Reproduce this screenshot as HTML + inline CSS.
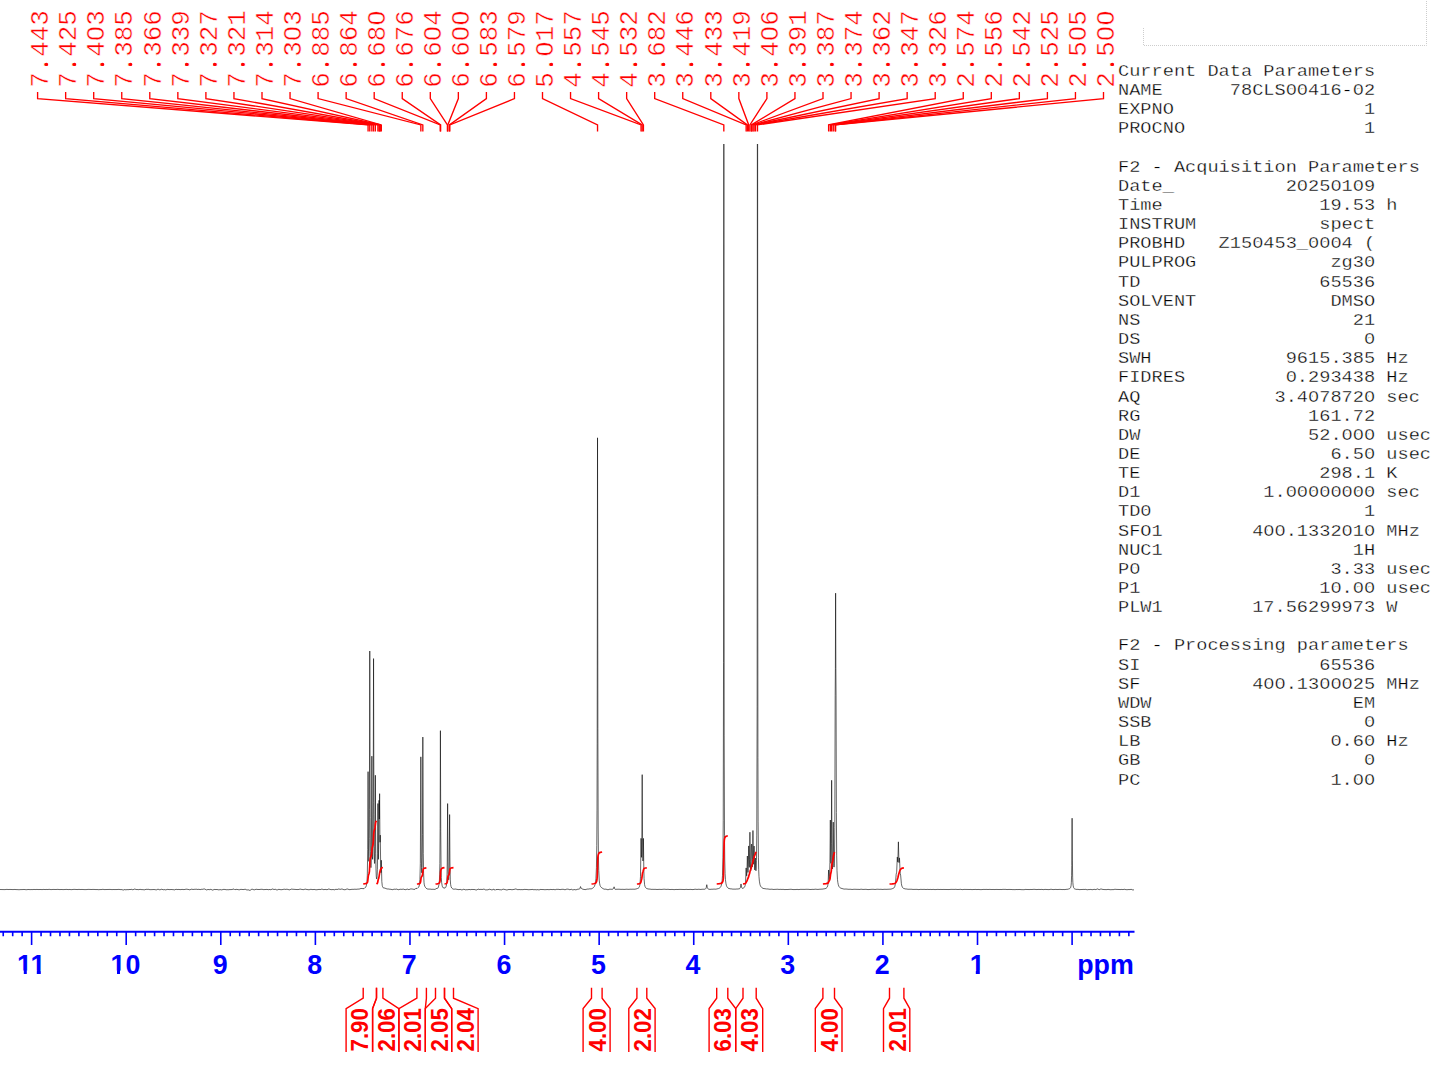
<!DOCTYPE html>
<html><head><meta charset="utf-8"><title>1H NMR spectrum</title>
<style>
html,body{margin:0;padding:0;background:#fff;}
body{width:1445px;height:1065px;overflow:hidden;}
svg{display:block;}
.pl{font-family:"Liberation Mono",monospace;font-size:25.87px;fill:#f00;stroke:#fff;stroke-width:0.45px;}
.pt{font-family:"Liberation Mono",monospace;font-size:18.65px;fill:#000;white-space:pre;stroke:#fff;stroke-width:0.35px;}
.ax{font-family:"Liberation Sans",Arial,sans-serif;font-weight:bold;font-size:26.8px;fill:#00f;}
.il{font-family:"Liberation Sans",Arial,sans-serif;font-weight:bold;font-size:23.5px;fill:#f00;}
</style></head><body>
<svg width="1445" height="1065" viewBox="0 0 1445 1065">
<defs><clipPath id="cp"><rect x="0" y="144" width="1140" height="800"/></clipPath></defs>
<g fill="none" stroke="#cdcdcd" stroke-width="1" stroke-dasharray="1 1"><path d="M1143.5 28 V45.5 H1426.5 V0"/></g>
<g class="pl">
<text transform="translate(48.30,87.7) rotate(-90)">7.443</text>
<text transform="translate(76.35,87.7) rotate(-90)">7.425</text>
<text transform="translate(104.40,87.7) rotate(-90)">7.403</text>
<text transform="translate(132.45,87.7) rotate(-90)">7.385</text>
<text transform="translate(160.50,87.7) rotate(-90)">7.366</text>
<text transform="translate(188.55,87.7) rotate(-90)">7.339</text>
<text transform="translate(216.60,87.7) rotate(-90)">7.327</text>
<text transform="translate(244.65,87.7) rotate(-90)">7.321</text>
<text transform="translate(272.70,87.7) rotate(-90)">7.314</text>
<text transform="translate(300.75,87.7) rotate(-90)">7.303</text>
<text transform="translate(328.80,87.7) rotate(-90)">6.885</text>
<text transform="translate(356.85,87.7) rotate(-90)">6.864</text>
<text transform="translate(384.90,87.7) rotate(-90)">6.680</text>
<text transform="translate(412.95,87.7) rotate(-90)">6.676</text>
<text transform="translate(441.00,87.7) rotate(-90)">6.604</text>
<text transform="translate(469.05,87.7) rotate(-90)">6.600</text>
<text transform="translate(497.10,87.7) rotate(-90)">6.583</text>
<text transform="translate(525.15,87.7) rotate(-90)">6.579</text>
<text transform="translate(553.20,87.7) rotate(-90)">5.017</text>
<text transform="translate(581.25,87.7) rotate(-90)">4.557</text>
<text transform="translate(609.30,87.7) rotate(-90)">4.545</text>
<text transform="translate(637.35,87.7) rotate(-90)">4.532</text>
<text transform="translate(665.40,87.7) rotate(-90)">3.682</text>
<text transform="translate(693.45,87.7) rotate(-90)">3.446</text>
<text transform="translate(721.50,87.7) rotate(-90)">3.433</text>
<text transform="translate(749.55,87.7) rotate(-90)">3.419</text>
<text transform="translate(777.60,87.7) rotate(-90)">3.406</text>
<text transform="translate(805.65,87.7) rotate(-90)">3.391</text>
<text transform="translate(833.70,87.7) rotate(-90)">3.387</text>
<text transform="translate(861.75,87.7) rotate(-90)">3.374</text>
<text transform="translate(889.80,87.7) rotate(-90)">3.362</text>
<text transform="translate(917.85,87.7) rotate(-90)">3.347</text>
<text transform="translate(945.90,87.7) rotate(-90)">3.326</text>
<text transform="translate(973.95,87.7) rotate(-90)">2.574</text>
<text transform="translate(1002.00,87.7) rotate(-90)">2.556</text>
<text transform="translate(1030.05,87.7) rotate(-90)">2.542</text>
<text transform="translate(1058.10,87.7) rotate(-90)">2.525</text>
<text transform="translate(1086.15,87.7) rotate(-90)">2.505</text>
<text transform="translate(1114.20,87.7) rotate(-90)">2.500</text>
</g>
<g fill="#fff"><circle cx="95.67" cy="33.37" r="2.85"/><circle cx="292.02" cy="33.37" r="2.85"/><circle cx="376.17" cy="17.85" r="2.85"/><circle cx="432.27" cy="33.37" r="2.85"/><circle cx="460.32" cy="33.37" r="2.85"/><circle cx="460.32" cy="17.85" r="2.85"/><circle cx="544.47" cy="48.90" r="2.85"/><circle cx="768.87" cy="33.37" r="2.85"/><circle cx="1077.42" cy="33.37" r="2.85"/><circle cx="1105.47" cy="33.37" r="2.85"/><circle cx="1105.47" cy="17.85" r="2.85"/></g>
<g fill="#f00"><circle cx="46.40" cy="64.42" r="1.65"/><circle cx="74.45" cy="64.42" r="1.65"/><circle cx="102.50" cy="64.42" r="1.65"/><circle cx="130.55" cy="64.42" r="1.65"/><circle cx="158.60" cy="64.42" r="1.65"/><circle cx="186.65" cy="64.42" r="1.65"/><circle cx="214.70" cy="64.42" r="1.65"/><circle cx="242.75" cy="64.42" r="1.65"/><circle cx="270.80" cy="64.42" r="1.65"/><circle cx="298.85" cy="64.42" r="1.65"/><circle cx="326.90" cy="64.42" r="1.65"/><circle cx="354.95" cy="64.42" r="1.65"/><circle cx="383.00" cy="64.42" r="1.65"/><circle cx="411.05" cy="64.42" r="1.65"/><circle cx="439.10" cy="64.42" r="1.65"/><circle cx="467.15" cy="64.42" r="1.65"/><circle cx="495.20" cy="64.42" r="1.65"/><circle cx="523.25" cy="64.42" r="1.65"/><circle cx="551.30" cy="64.42" r="1.65"/><circle cx="579.35" cy="64.42" r="1.65"/><circle cx="607.40" cy="64.42" r="1.65"/><circle cx="635.45" cy="64.42" r="1.65"/><circle cx="663.50" cy="64.42" r="1.65"/><circle cx="691.55" cy="64.42" r="1.65"/><circle cx="719.60" cy="64.42" r="1.65"/><circle cx="747.65" cy="64.42" r="1.65"/><circle cx="775.70" cy="64.42" r="1.65"/><circle cx="803.75" cy="64.42" r="1.65"/><circle cx="831.80" cy="64.42" r="1.65"/><circle cx="859.85" cy="64.42" r="1.65"/><circle cx="887.90" cy="64.42" r="1.65"/><circle cx="915.95" cy="64.42" r="1.65"/><circle cx="944.00" cy="64.42" r="1.65"/><circle cx="972.05" cy="64.42" r="1.65"/><circle cx="1000.10" cy="64.42" r="1.65"/><circle cx="1028.15" cy="64.42" r="1.65"/><circle cx="1056.20" cy="64.42" r="1.65"/><circle cx="1084.25" cy="64.42" r="1.65"/><circle cx="1112.30" cy="64.42" r="1.65"/></g>
<g fill="none" stroke="#f00" stroke-width="1.35">
<path d="M37.60 92 V98.6 L368.07 124.9 V131.5"/>
<path d="M65.65 92 V98.6 L369.77 124.9 V131.5"/>
<path d="M93.70 92 V98.6 L371.85 124.9 V131.5"/>
<path d="M121.75 92 V98.6 L373.55 124.9 V131.5"/>
<path d="M149.80 92 V98.6 L375.35 124.9 V131.5"/>
<path d="M177.85 92 V98.6 L377.90 124.9 V131.5"/>
<path d="M205.90 92 V98.6 L379.04 124.9 V131.5"/>
<path d="M233.95 92 V98.6 L379.61 124.9 V131.5"/>
<path d="M262.00 92 V98.6 L380.27 124.9 V131.5"/>
<path d="M290.05 92 V98.6 L381.31 124.9 V131.5"/>
<path d="M318.10 92 V98.6 L420.85 124.9 V131.5"/>
<path d="M346.15 92 V98.6 L422.83 124.9 V131.5"/>
<path d="M374.20 92 V98.6 L440.24 124.9 V131.5"/>
<path d="M402.25 92 V98.6 L440.62 124.9 V131.5"/>
<path d="M430.30 92 V98.6 L447.43 124.9 V131.5"/>
<path d="M458.35 92 V98.6 L447.81 124.9 V131.5"/>
<path d="M486.40 92 V98.6 L449.41 124.9 V131.5"/>
<path d="M514.45 92 V98.6 L449.79 124.9 V131.5"/>
<path d="M542.50 92 V98.6 L597.54 124.9 V131.5"/>
<path d="M570.55 92 V98.6 L641.05 124.9 V131.5"/>
<path d="M598.60 92 V98.6 L642.19 124.9 V131.5"/>
<path d="M626.65 92 V98.6 L643.42 124.9 V131.5"/>
<path d="M654.70 92 V98.6 L723.82 124.9 V131.5"/>
<path d="M682.75 92 V98.6 L746.14 124.9 V131.5"/>
<path d="M710.80 92 V98.6 L747.37 124.9 V131.5"/>
<path d="M738.85 92 V98.6 L748.70 124.9 V131.5"/>
<path d="M766.90 92 V98.6 L749.93 124.9 V131.5"/>
<path d="M794.95 92 V98.6 L751.35 124.9 V131.5"/>
<path d="M823.00 92 V98.6 L751.72 124.9 V131.5"/>
<path d="M851.05 92 V98.6 L752.95 124.9 V131.5"/>
<path d="M879.10 92 V98.6 L754.09 124.9 V131.5"/>
<path d="M907.15 92 V98.6 L755.51 124.9 V131.5"/>
<path d="M935.20 92 V98.6 L757.49 124.9 V131.5"/>
<path d="M963.25 92 V98.6 L828.63 124.9 V131.5"/>
<path d="M991.30 92 V98.6 L830.33 124.9 V131.5"/>
<path d="M1019.35 92 V98.6 L831.65 124.9 V131.5"/>
<path d="M1047.40 92 V98.6 L833.26 124.9 V131.5"/>
<path d="M1075.45 92 V98.6 L835.15 124.9 V131.5"/>
<path d="M1103.50 92 V98.6 L835.62 124.9 V131.5"/>
</g>
<path clip-path="url(#cp)" fill="none" stroke="#000" stroke-width="0.6" stroke-linejoin="round" d="M0.00 889.50 L5.00 889.60 L7.00 889.36 L8.00 889.55 L10.00 889.45 L13.00 889.59 L15.00 889.43 L16.00 889.63 L17.00 889.54 L18.00 889.69 L20.00 889.68 L21.00 889.52 L22.00 889.63 L23.00 889.47 L25.00 889.52 L26.00 889.75 L28.00 889.50 L29.00 889.49 L30.00 889.65 L31.00 889.55 L33.00 889.58 L34.00 889.39 L35.00 889.58 L37.00 889.41 L38.00 889.56 L41.00 889.49 L42.00 889.62 L44.00 889.36 L45.00 889.65 L46.00 889.41 L48.00 889.56 L49.00 889.30 L51.00 889.62 L53.00 889.44 L56.00 889.51 L58.00 889.35 L59.00 889.57 L62.00 889.49 L63.00 889.62 L67.00 889.38 L68.00 889.63 L70.00 889.43 L71.00 889.70 L74.00 889.37 L77.00 889.54 L78.00 889.52 L79.00 889.35 L80.00 889.54 L82.00 889.46 L85.00 889.61 L87.00 889.54 L88.00 889.38 L92.00 889.53 L93.00 889.39 L94.00 889.50 L95.00 889.44 L96.00 889.63 L97.00 889.46 L98.00 889.67 L99.00 889.70 L100.00 889.53 L101.00 889.59 L102.00 889.48 L103.00 889.27 L104.00 889.58 L110.00 889.43 L112.00 889.60 L114.00 889.49 L115.00 889.60 L116.00 889.47 L117.00 889.58 L118.00 889.40 L120.00 889.49 L121.00 889.68 L122.00 889.53 L123.00 890.10 L124.00 889.84 L125.00 889.39 L126.00 890.14 L127.00 889.24 L128.00 890.02 L129.00 889.27 L130.00 889.75 L131.00 889.26 L132.00 889.46 L133.00 889.96 L134.00 889.12 L135.00 889.07 L136.00 889.52 L138.00 889.55 L139.00 889.79 L140.00 889.17 L141.00 889.66 L142.00 889.51 L143.00 889.74 L144.00 889.69 L145.00 889.88 L146.00 889.12 L147.00 889.54 L148.00 889.21 L150.00 889.71 L151.00 889.60 L152.00 889.67 L153.00 889.50 L155.00 889.59 L156.00 889.91 L157.00 889.74 L158.00 889.00 L159.00 889.70 L160.00 889.81 L162.00 889.08 L163.00 889.93 L164.00 889.56 L165.00 889.69 L166.00 890.03 L167.00 889.28 L168.00 889.50 L169.00 889.48 L170.00 889.72 L171.00 889.36 L172.00 889.66 L173.00 889.54 L174.00 889.83 L175.00 889.86 L176.00 889.10 L177.00 889.65 L178.00 889.41 L181.00 889.65 L182.00 889.31 L183.00 889.59 L185.00 889.49 L186.00 889.14 L188.00 889.38 L190.00 889.91 L191.00 889.21 L192.00 889.21 L193.00 889.54 L194.00 889.33 L197.00 889.22 L198.00 889.63 L199.00 889.04 L200.00 889.87 L201.00 889.24 L202.00 889.35 L203.00 889.23 L204.00 888.93 L205.00 889.05 L206.00 889.84 L207.00 890.00 L208.00 889.25 L209.00 889.80 L211.00 889.24 L212.00 889.99 L213.00 890.13 L214.00 889.42 L216.00 889.57 L217.00 889.48 L219.00 889.95 L220.00 889.55 L222.00 889.99 L223.00 889.34 L224.00 889.51 L225.00 889.37 L226.00 889.79 L227.00 889.69 L229.00 889.76 L230.00 889.44 L231.00 889.73 L232.00 889.39 L233.00 889.39 L234.00 888.89 L235.00 889.91 L236.00 889.23 L237.00 889.52 L238.00 889.50 L239.00 889.93 L241.00 889.27 L242.00 889.52 L243.00 889.47 L244.00 889.58 L245.00 889.15 L246.00 889.50 L247.00 890.15 L248.00 889.70 L250.00 890.47 L251.00 889.65 L252.00 889.09 L254.00 889.84 L255.00 889.78 L256.00 889.15 L257.00 889.45 L259.00 889.51 L260.00 889.48 L261.00 889.25 L262.00 889.33 L263.00 889.43 L264.00 889.80 L265.00 889.34 L266.00 889.70 L267.00 889.16 L268.00 889.87 L269.00 889.53 L270.00 889.49 L271.00 889.89 L272.00 888.97 L273.00 889.05 L274.00 889.63 L275.00 889.26 L276.00 889.38 L277.00 890.27 L278.00 889.41 L280.00 889.46 L281.00 889.81 L282.00 889.57 L283.00 889.54 L284.00 889.13 L286.00 889.49 L287.00 889.03 L288.00 889.65 L289.00 889.60 L290.00 890.03 L291.00 889.02 L292.00 889.20 L297.00 889.56 L299.00 889.47 L300.00 889.03 L302.00 889.50 L304.00 889.67 L305.00 889.00 L306.00 889.33 L309.00 889.81 L311.00 889.22 L312.00 889.60 L315.00 889.44 L316.00 889.95 L317.00 889.55 L318.00 889.73 L319.00 889.21 L320.00 889.70 L322.00 889.01 L323.00 889.56 L324.00 889.65 L325.00 889.41 L326.00 889.47 L327.00 889.76 L329.00 888.86 L330.00 889.54 L331.00 889.52 L332.00 889.77 L333.00 889.36 L334.00 889.82 L335.00 889.78 L336.00 889.06 L337.00 889.71 L338.00 889.11 L339.00 888.98 L340.00 889.35 L341.00 889.26 L342.00 888.84 L343.00 889.48 L345.00 889.81 L347.00 888.95 L348.00 889.09 L349.00 889.66 L351.00 889.50 L352.00 889.25 L353.00 889.38 L355.00 889.18 L356.00 889.33 L358.00 889.09 L359.00 889.12 L360.00 888.87 L361.00 888.36 L362.00 888.60 L363.00 888.55 L364.00 888.73 L365.00 887.49 L365.50 887.31 L365.90 886.93 L366.40 885.56 L366.97 881.75 L367.30 875.62 L367.70 849.75 L368.07 771.65 L368.50 851.12 L368.75 861.16 L368.82 861.33 L368.90 860.43 L369.02 856.96 L369.25 838.61 L369.40 809.36 L369.77 651.02 L370.17 817.47 L370.40 851.25 L370.73 865.96 L370.93 867.63 L371.12 865.57 L371.40 850.72 L371.85 756.18 L372.30 848.18 L372.43 856.07 L372.60 859.34 L372.78 856.61 L372.93 848.73 L373.22 802.42 L373.55 658.59 L373.93 814.59 L374.13 846.47 L374.41 861.47 L374.56 863.48 L374.70 862.26 L374.93 850.91 L375.35 775.25 L375.75 853.64 L375.96 868.27 L376.26 876.24 L376.57 878.86 L376.76 879.06 L376.91 878.51 L377.17 875.55 L377.37 869.65 L377.58 853.89 L377.91 803.53 L378.23 849.64 L378.37 857.89 L378.46 859.34 L378.53 858.61 L378.76 843.61 L379.03 800.30 L379.32 819.00 L379.61 793.65 L379.93 839.28 L380.03 842.24 L380.27 835.14 L380.72 870.33 L380.86 872.69 L380.97 872.16 L381.31 860.23 L381.82 881.48 L382.26 885.52 L382.57 886.70 L383.00 887.66 L383.46 887.85 L384.00 887.84 L385.00 888.25 L386.00 888.46 L387.00 889.08 L388.00 888.88 L389.00 889.14 L391.00 889.30 L392.00 889.62 L393.00 889.69 L394.00 889.04 L395.00 889.35 L397.00 889.02 L398.00 889.85 L400.00 889.29 L401.00 889.23 L402.00 889.46 L403.00 889.04 L404.00 889.29 L405.00 889.71 L406.00 889.62 L407.00 889.10 L408.00 889.19 L409.00 889.89 L410.00 888.90 L411.00 889.10 L412.00 888.84 L413.00 889.32 L414.00 889.23 L415.00 889.38 L416.00 888.12 L417.00 888.66 L418.00 887.55 L418.69 887.14 L419.14 886.16 L419.59 883.62 L419.93 879.30 L420.33 863.51 L420.84 756.83 L421.33 857.88 L421.49 867.54 L421.69 872.24 L421.79 872.88 L421.93 872.30 L422.14 867.49 L422.49 834.32 L422.83 737.06 L423.29 853.34 L423.58 873.18 L424.04 882.79 L424.34 884.86 L424.78 886.27 L425.63 887.67 L427.00 888.95 L429.00 889.14 L430.00 889.09 L432.00 889.37 L433.00 889.20 L434.00 889.38 L435.00 889.37 L437.00 888.22 L437.51 888.26 L437.96 888.13 L438.36 887.31 L439.01 884.50 L439.41 880.30 L439.66 874.12 L439.86 863.54 L440.11 828.49 L440.41 730.66 L440.76 831.76 L441.06 867.90 L441.31 877.48 L441.61 882.34 L442.16 885.73 L442.51 886.83 L443.00 887.75 L443.46 887.82 L444.00 887.67 L445.00 888.23 L445.71 887.35 L446.16 886.25 L446.44 885.05 L446.84 880.76 L447.07 874.13 L447.24 862.93 L447.62 803.57 L447.99 861.25 L448.14 871.49 L448.37 878.00 L448.59 879.82 L448.72 879.67 L448.82 878.94 L449.14 870.51 L449.62 814.57 L449.94 861.95 L450.29 879.92 L450.59 884.22 L451.04 886.58 L451.72 888.02 L453.00 889.15 L455.00 889.15 L456.00 888.96 L457.00 889.56 L458.00 889.34 L459.00 889.87 L460.00 889.18 L461.00 889.71 L462.00 889.94 L464.00 889.09 L465.00 889.88 L467.00 889.66 L468.00 889.78 L469.00 889.33 L470.00 889.69 L471.00 889.67 L472.00 889.28 L473.00 889.68 L474.00 889.33 L475.00 889.75 L477.00 890.01 L478.00 888.91 L479.00 889.56 L480.00 889.39 L483.00 889.46 L484.00 888.90 L485.00 889.78 L486.00 889.94 L487.00 889.78 L488.00 889.88 L489.00 889.25 L490.00 889.23 L491.00 889.77 L492.00 889.89 L493.00 889.58 L494.00 889.06 L495.00 890.32 L496.00 889.32 L497.00 889.80 L498.00 889.17 L499.00 889.80 L500.00 889.57 L501.00 889.93 L502.00 889.77 L503.00 889.07 L507.00 890.05 L508.00 889.60 L509.00 889.49 L511.00 889.51 L512.00 889.82 L513.00 889.50 L514.00 889.49 L515.00 889.10 L516.00 888.92 L517.00 889.52 L518.00 889.71 L519.00 889.50 L521.00 889.71 L522.00 889.50 L523.00 889.80 L524.00 889.30 L525.00 889.51 L526.00 889.41 L529.00 889.77 L530.00 889.55 L531.00 889.65 L532.00 889.41 L533.00 889.48 L534.00 889.89 L535.00 889.46 L536.00 889.88 L538.00 889.57 L539.00 890.10 L540.00 889.45 L544.00 889.59 L545.00 889.77 L546.00 889.56 L547.00 889.64 L548.00 889.45 L549.00 889.84 L550.00 889.41 L553.00 889.61 L554.00 889.31 L555.00 889.97 L556.00 889.33 L559.00 889.35 L560.00 889.66 L562.00 889.27 L564.00 889.40 L565.00 889.92 L566.00 889.30 L567.00 889.11 L568.00 889.15 L569.00 889.38 L570.00 889.92 L571.00 889.16 L572.00 889.48 L573.00 890.19 L574.00 889.31 L575.00 889.87 L577.00 889.58 L578.00 888.97 L579.00 889.35 L579.17 889.28 L579.62 888.98 L579.92 888.56 L580.52 886.58 L581.07 888.00 L581.47 888.50 L583.00 889.32 L584.00 889.37 L585.00 889.67 L586.00 889.47 L587.00 889.09 L589.00 889.06 L590.00 888.68 L591.00 889.05 L592.13 888.50 L593.43 887.61 L593.98 887.09 L594.33 886.53 L595.08 884.56 L595.58 882.05 L595.93 878.72 L596.43 867.70 L596.78 845.62 L597.00 810.12 L597.18 743.82 L597.53 437.80 L597.88 728.65 L598.18 829.00 L598.43 856.22 L598.73 870.43 L599.23 880.09 L599.58 883.17 L600.00 885.33 L600.53 886.47 L601.68 887.78 L602.08 888.11 L603.00 888.44 L604.00 889.31 L605.00 889.07 L607.00 889.41 L608.00 889.88 L609.00 889.34 L610.00 889.18 L612.00 889.31 L613.00 889.06 L613.54 888.45 L614.10 886.82 L614.64 888.66 L614.95 889.18 L615.14 889.30 L619.00 889.21 L621.00 889.36 L623.00 889.31 L624.00 889.45 L627.00 889.18 L628.00 889.38 L631.00 889.18 L632.00 889.29 L633.00 889.10 L634.00 889.29 L636.00 889.01 L637.40 888.55 L638.50 888.02 L639.00 887.55 L639.40 886.72 L639.77 885.36 L640.07 883.34 L640.47 876.69 L641.05 838.32 L641.40 856.09 L641.52 857.33 L641.62 854.83 L641.82 838.24 L642.20 774.63 L642.55 838.29 L642.80 858.63 L642.92 860.94 L643.05 859.10 L643.42 838.39 L643.80 868.26 L644.07 878.53 L644.57 884.57 L644.97 886.32 L645.52 887.47 L646.20 888.18 L647.00 888.68 L649.00 889.10 L650.00 889.06 L651.00 889.33 L652.00 889.37 L653.00 889.30 L654.00 889.42 L655.00 889.30 L657.00 889.49 L660.00 889.33 L661.00 889.49 L664.00 889.21 L665.00 889.24 L666.00 889.44 L668.00 889.29 L670.00 889.55 L672.00 889.41 L674.00 889.62 L675.00 889.60 L676.00 889.39 L677.00 889.53 L680.00 889.39 L685.00 889.55 L686.00 889.34 L688.00 889.52 L691.00 889.37 L692.00 889.60 L694.00 889.47 L695.00 889.18 L697.00 889.44 L699.00 889.21 L700.00 889.43 L701.00 889.43 L702.00 889.26 L704.99 889.23 L705.49 888.93 L705.89 888.47 L706.19 887.81 L706.79 884.70 L707.29 887.47 L707.69 888.53 L708.19 888.96 L710.00 889.46 L711.00 889.20 L712.00 889.26 L714.00 889.10 L716.00 889.19 L717.00 888.85 L718.00 888.75 L718.54 888.57 L719.54 888.09 L720.19 887.55 L720.69 886.87 L721.14 885.95 L721.74 883.76 L722.14 880.68 L722.49 875.36 L722.94 857.87 L723.24 820.75 L723.54 662.68 L723.84 106.44 L724.19 735.88 L724.49 835.66 L724.74 860.00 L725.09 873.66 L725.44 879.59 L725.99 883.79 L726.34 885.25 L726.79 886.46 L727.34 887.39 L728.00 888.11 L730.00 888.82 L732.00 888.95 L733.00 889.22 L734.00 889.02 L735.00 889.22 L736.00 889.04 L738.00 889.01 L739.38 888.76 L739.99 888.39 L740.34 887.77 L741.03 883.94 L741.59 887.19 L742.00 888.17 L742.49 888.36 L743.18 888.21 L743.88 887.78 L744.54 887.10 L745.17 885.45 L745.53 882.63 L746.13 867.92 L746.55 875.43 L746.67 876.11 L746.79 875.44 L747.37 856.00 L747.79 870.36 L747.93 872.31 L748.00 872.46 L748.07 872.08 L748.30 866.30 L748.69 845.93 L749.10 864.36 L749.22 866.96 L749.29 867.35 L749.35 867.04 L749.57 859.78 L749.92 832.20 L750.29 861.17 L750.54 870.11 L750.63 870.98 L750.72 870.87 L750.90 867.98 L751.32 847.08 L751.49 844.05 L751.63 844.33 L751.72 845.80 L752.08 863.42 L752.20 866.37 L752.34 866.93 L752.59 859.57 L752.95 830.50 L753.29 856.46 L753.49 863.85 L753.54 864.25 L753.60 864.05 L753.70 862.08 L754.09 846.04 L754.67 869.39 L754.79 869.96 L754.92 868.70 L755.32 858.04 L755.72 868.79 L755.83 870.34 L755.97 870.79 L756.23 867.95 L756.47 860.51 L756.78 835.13 L757.13 706.87 L757.32 343.92 L757.48 -498.92 L757.72 495.60 L757.93 757.41 L758.12 821.17 L758.43 857.80 L758.68 869.33 L758.98 876.41 L759.38 881.16 L759.98 884.53 L760.48 885.92 L761.08 886.88 L761.68 887.49 L763.00 888.41 L766.68 888.98 L768.00 888.95 L769.00 889.22 L771.00 889.29 L772.00 889.11 L773.00 889.48 L778.00 889.22 L779.00 889.53 L780.00 889.30 L782.00 889.46 L783.00 889.34 L785.00 889.61 L786.00 889.44 L787.00 889.56 L791.00 889.26 L793.00 889.57 L796.00 889.54 L797.00 889.38 L799.00 889.62 L800.00 889.35 L805.00 889.40 L806.00 889.28 L809.00 889.35 L810.00 889.53 L813.00 889.34 L814.00 889.48 L815.00 889.17 L818.00 889.44 L819.00 889.27 L823.00 889.06 L824.00 888.82 L825.00 888.75 L826.20 888.22 L827.05 887.43 L827.69 885.89 L828.08 883.25 L828.62 869.97 L829.10 879.45 L829.23 879.83 L829.35 879.41 L829.59 876.32 L829.92 862.47 L830.33 820.06 L830.73 857.17 L830.89 862.98 L830.98 863.37 L831.06 862.22 L831.33 843.39 L831.65 780.28 L831.98 843.93 L832.24 864.92 L832.37 868.12 L832.51 868.95 L832.77 863.71 L833.26 822.10 L833.68 858.93 L833.86 865.47 L833.96 866.90 L834.08 867.10 L834.31 863.84 L834.51 856.09 L834.79 827.25 L835.18 695.83 L835.39 668.21 L835.62 593.17 L835.86 668.46 L836.07 695.97 L836.38 812.41 L836.68 855.13 L837.00 870.69 L837.48 879.46 L837.83 882.42 L838.31 884.76 L838.93 886.46 L839.63 887.42 L840.82 888.18 L844.00 889.10 L846.00 889.03 L849.00 889.34 L850.00 889.21 L852.00 889.44 L853.00 889.42 L854.00 889.21 L855.00 889.34 L856.00 889.26 L857.00 889.43 L858.00 889.30 L859.00 889.46 L860.00 889.42 L861.00 889.16 L863.00 889.46 L866.00 889.30 L868.00 889.60 L872.00 889.29 L874.00 889.34 L875.00 889.53 L877.00 889.20 L880.00 889.38 L881.00 889.21 L882.00 889.48 L885.00 889.26 L886.00 889.36 L891.00 889.11 L892.76 888.52 L893.93 887.96 L894.48 887.22 L894.91 886.18 L895.51 882.85 L896.16 874.32 L896.56 872.63 L896.71 871.18 L897.29 857.15 L897.34 856.98 L897.41 857.45 L897.70 861.84 L897.78 862.12 L897.85 861.68 L898.40 841.84 L898.93 861.95 L899.00 862.63 L899.09 862.49 L899.39 858.28 L899.45 857.90 L899.51 858.13 L900.09 871.93 L900.24 873.39 L900.64 875.12 L901.38 883.70 L901.85 885.98 L902.60 887.59 L903.29 888.25 L905.00 888.87 L906.00 889.03 L907.00 888.99 L908.00 889.35 L909.00 889.16 L910.00 889.31 L911.00 889.19 L913.00 889.44 L917.00 889.37 L919.00 889.65 L920.00 889.35 L923.00 889.44 L924.00 889.35 L926.00 889.53 L928.00 889.34 L929.00 889.60 L930.00 889.35 L932.00 889.58 L933.00 889.35 L935.00 889.60 L938.00 889.36 L939.00 889.52 L941.00 889.41 L942.00 889.54 L943.00 889.45 L949.00 889.54 L951.00 889.37 L955.00 889.43 L956.00 889.26 L957.00 889.57 L958.00 889.41 L959.00 889.52 L960.00 889.30 L961.00 889.32 L962.00 889.68 L964.00 889.42 L970.00 889.50 L971.00 889.39 L972.00 889.72 L973.00 889.43 L974.00 889.59 L975.00 889.39 L977.00 889.58 L978.00 889.45 L981.00 889.65 L984.00 889.39 L985.00 889.51 L986.00 889.39 L988.00 889.50 L990.00 889.39 L991.00 889.53 L994.00 889.48 L995.00 889.58 L996.00 889.39 L997.00 889.53 L998.00 889.45 L999.00 889.58 L1000.00 889.46 L1002.00 889.54 L1003.00 889.29 L1004.00 889.46 L1005.00 889.32 L1007.00 889.56 L1009.00 889.45 L1012.00 889.52 L1013.00 889.67 L1014.00 889.52 L1015.00 889.72 L1016.00 889.46 L1017.00 889.57 L1020.00 889.47 L1021.00 889.64 L1024.00 889.70 L1026.00 889.33 L1027.00 889.60 L1028.00 889.43 L1029.00 889.63 L1030.00 889.46 L1032.00 889.50 L1034.00 889.32 L1037.00 889.59 L1038.00 889.43 L1041.00 889.50 L1042.00 889.32 L1043.00 889.69 L1045.00 889.40 L1049.00 889.63 L1051.00 889.24 L1053.00 889.60 L1056.00 889.38 L1057.00 889.56 L1060.00 889.38 L1062.00 889.57 L1064.00 889.50 L1065.00 889.63 L1066.00 889.30 L1067.00 889.39 L1068.30 889.10 L1069.80 888.54 L1070.25 888.16 L1070.60 887.60 L1071.05 885.79 L1071.35 882.44 L1071.60 875.30 L1071.75 865.50 L1072.10 818.21 L1072.40 860.10 L1072.65 877.16 L1072.85 882.25 L1073.10 885.20 L1073.50 887.27 L1074.05 888.42 L1074.50 888.82 L1075.10 889.09 L1077.00 889.47 L1078.00 889.22 L1079.00 889.64 L1084.00 889.40 L1085.00 889.52 L1086.00 889.19 L1087.00 890.01 L1088.00 889.48 L1089.00 889.66 L1090.00 889.45 L1091.00 889.43 L1092.00 889.71 L1093.00 889.65 L1094.00 889.29 L1096.00 889.66 L1097.00 888.98 L1098.00 888.91 L1099.00 889.86 L1101.00 888.87 L1102.00 889.30 L1104.00 889.55 L1107.00 889.63 L1108.00 889.31 L1109.00 889.59 L1110.00 889.60 L1111.00 889.80 L1112.00 889.51 L1113.00 889.72 L1115.00 889.23 L1116.00 889.40 L1121.00 889.57 L1122.00 889.31 L1123.00 889.77 L1124.00 889.16 L1126.00 889.68 L1128.00 889.67 L1129.00 889.46 L1130.00 889.68 L1131.00 889.21 L1133.00 890.07 L1134.00 889.68"/>
<g fill="none" stroke="#f00" stroke-width="1.7">
<path d="M363.20 884.00 L365.30 883.68 L366.00 883.48 L366.60 883.21 L367.00 882.92 L367.30 882.55 L367.50 882.14 L367.70 881.44 L368.30 876.01 L368.50 875.12 L369.10 873.20 L369.40 871.32 L369.90 861.80 L370.10 859.51 L370.40 857.95 L371.20 855.86 L371.40 855.14 L371.60 853.88 L372.10 848.40 L372.30 847.42 L372.90 845.36 L373.10 844.25 L373.30 842.19 L373.70 834.07 L373.90 831.98 L374.20 830.50 L374.80 828.78 L375.00 827.95 L375.50 823.29 L375.70 822.24 L376.00 821.48 L376.50 820.80"/>
<path d="M376.50 884.00 L377.20 883.39 L377.60 882.61 L378.10 880.04 L378.80 878.08 L379.70 872.65 L380.40 869.95 L381.60 867.98 L382.10 867.71 L382.90 867.52"/>
<path d="M416.90 884.00 L418.30 883.87 L419.20 883.69 L419.80 883.42 L420.20 883.02 L420.40 882.59 L420.60 881.73 L421.00 878.31 L421.20 877.45 L421.50 876.82 L422.20 875.81 L422.50 874.85 L423.00 870.33 L423.30 869.15 L423.70 868.60 L424.20 868.30 L425.10 868.07 L426.40 867.92"/>
<path d="M435.50 884.00 L437.30 883.80 L438.40 883.54 L439.10 883.16 L439.60 882.53 L439.90 881.62 L440.10 880.29 L440.60 871.95 L440.80 870.31 L441.00 869.50 L441.40 868.73 L442.00 868.25 L442.90 867.92 L444.50 867.60"/>
<path d="M444.50 884.00 L445.60 883.76 L446.30 883.50 L446.80 883.10 L447.10 882.57 L447.40 881.14 L447.70 878.00 L447.90 876.71 L448.20 875.87 L448.90 874.86 L449.20 874.15 L449.40 873.10 L449.80 869.72 L450.10 868.79 L450.50 868.33 L451.10 868.03 L452.10 867.82 L453.50 867.68"/>
<path d="M591.50 884.00 L593.80 883.72 L595.20 883.29 L595.70 882.98 L596.10 882.56 L596.60 881.56 L597.00 879.50 L597.20 877.02 L597.70 860.60 L597.90 857.19 L598.10 855.53 L598.50 853.99 L598.80 853.42 L599.20 852.96 L599.70 852.62 L600.30 852.37 L602.10 852.00"/>
<path d="M636.90 884.00 L638.50 883.85 L639.50 883.64 L640.20 883.31 L640.60 882.85 L640.80 882.37 L641.20 880.69 L641.80 878.66 L642.50 873.15 L643.10 871.32 L643.70 869.07 L644.10 868.52 L644.60 868.23 L645.50 868.00 L646.80 867.84"/>
<path d="M716.70 884.00 L719.70 883.68 L720.70 883.45 L721.40 883.18 L722.00 882.77 L722.40 882.31 L722.70 881.74 L723.00 880.75 L723.30 878.63 L723.50 875.18 L723.90 849.77 L724.10 842.88 L724.30 840.21 L724.50 838.88 L724.70 838.09 L725.00 837.37 L725.30 836.92 L725.70 836.54 L726.30 836.19 L727.80 835.76"/>
<path d="M743.00 884.00 L744.70 883.71 L745.20 883.53 L745.60 883.29 L745.90 882.91 L746.30 882.08 L747.10 880.73 L747.60 879.17 L748.40 877.47 L748.90 875.44 L749.60 873.57 L750.20 870.66 L751.10 868.54 L751.80 865.44 L752.60 863.20 L753.20 860.17 L753.80 858.41 L754.30 856.37 L755.00 854.75 L755.60 853.00 L756.20 851.76"/>
<path d="M822.90 884.00 L826.10 883.66 L827.10 883.43 L827.80 883.15 L828.30 882.67 L828.80 881.50 L829.70 880.02 L829.90 879.38 L830.10 878.28 L830.60 874.19 L831.30 871.10 L831.80 865.02 L832.00 863.60 L832.90 860.41 L833.50 855.78 L834.50 852.00"/>
<path d="M889.50 884.00 L892.20 883.85 L894.00 883.63 L895.10 883.31 L895.80 882.79 L896.60 881.48 L897.00 880.55 L898.00 877.30 L898.70 874.15 L899.70 870.99 L900.10 870.11 L900.80 869.00 L901.40 868.49 L902.40 868.14 L903.90 867.92"/>
</g>
<g stroke="#00f" stroke-width="2" fill="none"><path d="M0 931.75 H1134.5"/>
<path stroke-width="1.6" d="M1128.85 931.75 V936.2 M1119.39 931.75 V936.2 M1109.94 931.75 V936.2 M1100.48 931.75 V936.2 M1091.02 931.75 V936.2 M1081.56 931.75 V936.2 M1072.10 931.75 V945 M1062.64 931.75 V936.2 M1053.18 931.75 V936.2 M1043.72 931.75 V936.2 M1034.26 931.75 V936.2 M1024.80 931.75 V936.2 M1015.35 931.75 V936.2 M1005.89 931.75 V936.2 M996.43 931.75 V936.2 M986.97 931.75 V936.2 M977.51 931.75 V945 M968.05 931.75 V936.2 M958.59 931.75 V936.2 M949.13 931.75 V936.2 M939.67 931.75 V936.2 M930.21 931.75 V936.2 M920.76 931.75 V936.2 M911.30 931.75 V936.2 M901.84 931.75 V936.2 M892.38 931.75 V936.2 M882.92 931.75 V945 M873.46 931.75 V936.2 M864.00 931.75 V936.2 M854.54 931.75 V936.2 M845.08 931.75 V936.2 M835.62 931.75 V936.2 M826.17 931.75 V936.2 M816.71 931.75 V936.2 M807.25 931.75 V936.2 M797.79 931.75 V936.2 M788.33 931.75 V945 M778.87 931.75 V936.2 M769.41 931.75 V936.2 M759.95 931.75 V936.2 M750.49 931.75 V936.2 M741.03 931.75 V936.2 M731.58 931.75 V936.2 M722.12 931.75 V936.2 M712.66 931.75 V936.2 M703.20 931.75 V936.2 M693.74 931.75 V945 M684.28 931.75 V936.2 M674.82 931.75 V936.2 M665.36 931.75 V936.2 M655.90 931.75 V936.2 M646.44 931.75 V936.2 M636.99 931.75 V936.2 M627.53 931.75 V936.2 M618.07 931.75 V936.2 M608.61 931.75 V936.2 M599.15 931.75 V945 M589.69 931.75 V936.2 M580.23 931.75 V936.2 M570.77 931.75 V936.2 M561.31 931.75 V936.2 M551.85 931.75 V936.2 M542.40 931.75 V936.2 M532.94 931.75 V936.2 M523.48 931.75 V936.2 M514.02 931.75 V936.2 M504.56 931.75 V945 M495.10 931.75 V936.2 M485.64 931.75 V936.2 M476.18 931.75 V936.2 M466.72 931.75 V936.2 M457.26 931.75 V936.2 M447.81 931.75 V936.2 M438.35 931.75 V936.2 M428.89 931.75 V936.2 M419.43 931.75 V936.2 M409.97 931.75 V945 M400.51 931.75 V936.2 M391.05 931.75 V936.2 M381.59 931.75 V936.2 M372.13 931.75 V936.2 M362.67 931.75 V936.2 M353.22 931.75 V936.2 M343.76 931.75 V936.2 M334.30 931.75 V936.2 M324.84 931.75 V936.2 M315.38 931.75 V945 M305.92 931.75 V936.2 M296.46 931.75 V936.2 M287.00 931.75 V936.2 M277.54 931.75 V936.2 M268.08 931.75 V936.2 M258.63 931.75 V936.2 M249.17 931.75 V936.2 M239.71 931.75 V936.2 M230.25 931.75 V936.2 M220.79 931.75 V945 M211.33 931.75 V936.2 M201.87 931.75 V936.2 M192.41 931.75 V936.2 M182.95 931.75 V936.2 M173.49 931.75 V936.2 M164.04 931.75 V936.2 M154.58 931.75 V936.2 M145.12 931.75 V936.2 M135.66 931.75 V936.2 M126.20 931.75 V945 M116.74 931.75 V936.2 M107.28 931.75 V936.2 M97.82 931.75 V936.2 M88.36 931.75 V936.2 M78.90 931.75 V936.2 M69.45 931.75 V936.2 M59.99 931.75 V936.2 M50.53 931.75 V936.2 M41.07 931.75 V936.2 M31.61 931.75 V945 M22.15 931.75 V936.2 M12.69 931.75 V936.2 M3.23 931.75 V936.2"/></g>
<g class="ax" text-anchor="middle">
<text x="977.11" y="974">1</text>
<text x="882.22" y="974">2</text>
<text x="787.63" y="974">3</text>
<text x="693.04" y="974">4</text>
<text x="598.45" y="974">5</text>
<text x="503.86" y="974">6</text>
<text x="409.27" y="974">7</text>
<text x="314.68" y="974">8</text>
<text x="220.09" y="974">9</text>
<text x="125.50" y="974">10</text>
<text x="31.21" y="974">11</text>
<text x="1105.5" y="974">ppm</text>
</g>
<g fill="#fff"><rect x="17.3" y="970.6" width="6.5" height="3.7"/><rect x="26.8" y="970.6" width="9.999999999999996" height="3.7"/><rect x="40.8" y="970.6" width="5.5" height="3.7"/><rect x="110.5" y="970.6" width="6.5" height="3.7"/><rect x="120" y="970.6" width="6" height="3.7"/><rect x="969.8" y="970.6" width="6.0" height="3.7"/><rect x="979.8" y="970.6" width="5.5" height="3.7"/></g>
<g fill="none" stroke="#f00" stroke-width="1.4">
<path d="M363.2 987.8 V998.2 L346.1 1008.6 V1052 M376.5 987.8 V998.2 L372.6 1008.6 V1052"/>
<path d="M376.5 987.8 V998.2 L372.6 1008.6 V1052 M382.9 987.8 V998.2 L398.9 1008.6 V1052"/>
<path d="M416.9 987.8 V998.2 L398.9 1008.6 V1052 M426.4 987.8 V998.2 L425.3 1008.6 V1052"/>
<path d="M435.5 987.8 V998.2 L425.3 1008.6 V1052 M444.5 987.8 V998.2 L451.7 1008.6 V1052"/>
<path d="M444.5 987.8 V998.2 L451.7 1008.6 V1052 M453.5 987.8 V998.2 L478.1 1008.6 V1052"/>
<path d="M591.5 987.8 V998.2 L583.1 1008.6 V1052 M602.1 987.8 V998.2 L610.1 1008.6 V1052"/>
<path d="M636.9 987.8 V998.2 L628.8 1008.6 V1052 M646.8 987.8 V998.2 L655.1 1008.6 V1052"/>
<path d="M716.7 987.8 V998.2 L709.1 1008.6 V1052 M727.8 987.8 V998.2 L735.7 1008.6 V1052"/>
<path d="M743.0 987.8 V998.2 L735.7 1008.6 V1052 M756.2 987.8 V998.2 L762.7 1008.6 V1052"/>
<path d="M822.9 987.8 V998.2 L815.3 1008.6 V1052 M834.5 987.8 V998.2 L842.0 1008.6 V1052"/>
<path d="M889.5 987.8 V998.2 L883.5 1008.6 V1052 M903.9 987.8 V998.2 L909.8 1008.6 V1052"/>
</g>
<g class="il">
<text transform="translate(368.35,1051.5) rotate(-90) scale(0.95,1)">7.90</text>
<text transform="translate(394.75,1051.5) rotate(-90) scale(0.95,1)">2.06</text>
<text transform="translate(421.10,1051.5) rotate(-90) scale(0.95,1)">2.01</text>
<text transform="translate(447.50,1051.5) rotate(-90) scale(0.95,1)">2.05</text>
<text transform="translate(473.90,1051.5) rotate(-90) scale(0.95,1)">2.04</text>
<text transform="translate(605.60,1051.5) rotate(-90) scale(0.95,1)">4.00</text>
<text transform="translate(650.95,1051.5) rotate(-90) scale(0.95,1)">2.02</text>
<text transform="translate(731.40,1051.5) rotate(-90) scale(0.95,1)">6.03</text>
<text transform="translate(758.20,1051.5) rotate(-90) scale(0.95,1)">4.03</text>
<text transform="translate(837.65,1051.5) rotate(-90) scale(0.95,1)">4.00</text>
<text transform="translate(905.65,1051.5) rotate(-90) scale(0.95,1)">2.01</text>
</g>
<g class="pt" transform="translate(1118.0,76.0) scale(1,0.88)">
<text x="0" y="0.00" xml:space="preserve">Current Data Parameters</text>
<text x="0" y="21.76" xml:space="preserve">NAME      78CLS00416-02</text>
<text x="0" y="43.52" xml:space="preserve">EXPNO                 1</text>
<text x="0" y="65.28" xml:space="preserve">PROCNO                1</text>
<text x="0" y="108.81" xml:space="preserve">F2 - Acquisition Parameters</text>
<text x="0" y="130.57" xml:space="preserve">Date_          20250109</text>
<text x="0" y="152.33" xml:space="preserve">Time              19.53 h</text>
<text x="0" y="174.09" xml:space="preserve">INSTRUM           spect</text>
<text x="0" y="195.85" xml:space="preserve">PROBHD   Z150453_0004 (</text>
<text x="0" y="217.61" xml:space="preserve">PULPROG            zg30</text>
<text x="0" y="239.37" xml:space="preserve">TD                65536</text>
<text x="0" y="261.14" xml:space="preserve">SOLVENT            DMSO</text>
<text x="0" y="282.90" xml:space="preserve">NS                   21</text>
<text x="0" y="304.66" xml:space="preserve">DS                    0</text>
<text x="0" y="326.42" xml:space="preserve">SWH            9615.385 Hz</text>
<text x="0" y="348.18" xml:space="preserve">FIDRES         0.293438 Hz</text>
<text x="0" y="369.94" xml:space="preserve">AQ            3.4078720 sec</text>
<text x="0" y="391.70" xml:space="preserve">RG               161.72</text>
<text x="0" y="413.47" xml:space="preserve">DW               52.000 usec</text>
<text x="0" y="435.23" xml:space="preserve">DE                 6.50 usec</text>
<text x="0" y="456.99" xml:space="preserve">TE                298.1 K</text>
<text x="0" y="478.75" xml:space="preserve">D1           1.00000000 sec</text>
<text x="0" y="500.51" xml:space="preserve">TD0                   1</text>
<text x="0" y="522.27" xml:space="preserve">SFO1        400.1332010 MHz</text>
<text x="0" y="544.03" xml:space="preserve">NUC1                 1H</text>
<text x="0" y="565.80" xml:space="preserve">P0                 3.33 usec</text>
<text x="0" y="587.56" xml:space="preserve">P1                10.00 usec</text>
<text x="0" y="609.32" xml:space="preserve">PLW1        17.56299973 W</text>
<text x="0" y="652.84" xml:space="preserve">F2 - Processing parameters</text>
<text x="0" y="674.60" xml:space="preserve">SI                65536</text>
<text x="0" y="696.36" xml:space="preserve">SF          400.1300025 MHz</text>
<text x="0" y="718.12" xml:space="preserve">WDW                  EM</text>
<text x="0" y="739.89" xml:space="preserve">SSB                   0</text>
<text x="0" y="761.65" xml:space="preserve">LB                 0.60 Hz</text>
<text x="0" y="783.41" xml:space="preserve">GB                    0</text>
<text x="0" y="805.17" xml:space="preserve">PC                 1.00</text>
</g>
<g fill="#fff"><ellipse cx="1291.44" cy="89.61" rx="1.45" ry="1.28"/><ellipse cx="1302.63" cy="89.61" rx="1.45" ry="1.28"/><ellipse cx="1358.59" cy="89.61" rx="1.45" ry="1.28"/><ellipse cx="1302.63" cy="185.36" rx="1.45" ry="1.28"/><ellipse cx="1336.20" cy="185.36" rx="1.45" ry="1.28"/><ellipse cx="1358.59" cy="185.36" rx="1.45" ry="1.28"/><ellipse cx="1257.88" cy="242.81" rx="1.45" ry="1.28"/><ellipse cx="1313.83" cy="242.81" rx="1.45" ry="1.28"/><ellipse cx="1325.01" cy="242.81" rx="1.45" ry="1.28"/><ellipse cx="1336.20" cy="242.81" rx="1.45" ry="1.28"/><ellipse cx="1369.78" cy="261.96" rx="1.45" ry="1.28"/><ellipse cx="1369.78" cy="338.56" rx="1.45" ry="1.28"/><ellipse cx="1291.44" cy="376.86" rx="1.45" ry="1.28"/><ellipse cx="1313.83" cy="396.01" rx="1.45" ry="1.28"/><ellipse cx="1369.78" cy="396.01" rx="1.45" ry="1.28"/><ellipse cx="1347.39" cy="434.31" rx="1.45" ry="1.28"/><ellipse cx="1358.59" cy="434.31" rx="1.45" ry="1.28"/><ellipse cx="1369.78" cy="434.31" rx="1.45" ry="1.28"/><ellipse cx="1369.78" cy="453.46" rx="1.45" ry="1.28"/><ellipse cx="1291.44" cy="491.76" rx="1.45" ry="1.28"/><ellipse cx="1302.63" cy="491.76" rx="1.45" ry="1.28"/><ellipse cx="1313.83" cy="491.76" rx="1.45" ry="1.28"/><ellipse cx="1325.01" cy="491.76" rx="1.45" ry="1.28"/><ellipse cx="1336.20" cy="491.76" rx="1.45" ry="1.28"/><ellipse cx="1347.39" cy="491.76" rx="1.45" ry="1.28"/><ellipse cx="1358.59" cy="491.76" rx="1.45" ry="1.28"/><ellipse cx="1369.78" cy="491.76" rx="1.45" ry="1.28"/><ellipse cx="1145.97" cy="510.91" rx="1.45" ry="1.28"/><ellipse cx="1269.07" cy="530.06" rx="1.45" ry="1.28"/><ellipse cx="1280.26" cy="530.06" rx="1.45" ry="1.28"/><ellipse cx="1347.39" cy="530.06" rx="1.45" ry="1.28"/><ellipse cx="1369.78" cy="530.06" rx="1.45" ry="1.28"/><ellipse cx="1134.79" cy="568.36" rx="1.45" ry="1.28"/><ellipse cx="1336.20" cy="587.51" rx="1.45" ry="1.28"/><ellipse cx="1358.59" cy="587.51" rx="1.45" ry="1.28"/><ellipse cx="1369.78" cy="587.51" rx="1.45" ry="1.28"/><ellipse cx="1269.07" cy="683.26" rx="1.45" ry="1.28"/><ellipse cx="1280.26" cy="683.26" rx="1.45" ry="1.28"/><ellipse cx="1325.01" cy="683.26" rx="1.45" ry="1.28"/><ellipse cx="1336.20" cy="683.26" rx="1.45" ry="1.28"/><ellipse cx="1347.39" cy="683.26" rx="1.45" ry="1.28"/><ellipse cx="1369.78" cy="721.56" rx="1.45" ry="1.28"/><ellipse cx="1336.20" cy="740.71" rx="1.45" ry="1.28"/><ellipse cx="1369.78" cy="740.71" rx="1.45" ry="1.28"/><ellipse cx="1369.78" cy="759.86" rx="1.45" ry="1.28"/><ellipse cx="1358.59" cy="779.01" rx="1.45" ry="1.28"/><ellipse cx="1369.78" cy="779.01" rx="1.45" ry="1.28"/></g>
</svg>
</body></html>
